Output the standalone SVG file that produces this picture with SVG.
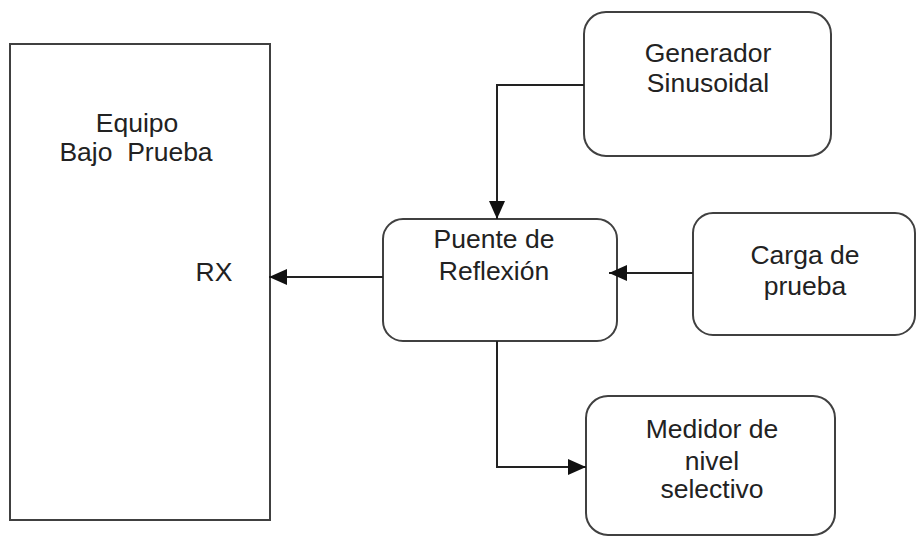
<svg xmlns="http://www.w3.org/2000/svg" width="917" height="537" viewBox="0 0 917 537">
<style>
.box{fill:#fff;stroke:#404040;stroke-width:2}
.t{font-family:"Liberation Sans",Arial,sans-serif;font-size:26.5px;fill:#222;text-anchor:middle}
.c{fill:none;stroke:#222;stroke-width:2}
</style>
<defs>
<marker id="ah" viewBox="0 0 18 16" refX="18" refY="8" markerWidth="18" markerHeight="16" markerUnits="userSpaceOnUse" orient="auto">
<path d="M0,0 L18,8 L0,16 Z" fill="#111"/>
</marker>
</defs>
<rect width="917" height="537" fill="#fff"/>
<g id="equipo">
<rect class="box" x="10" y="44" width="260" height="476"/>
<text class="t" x="137" y="132">Equipo</text>
<text class="t" x="136" y="161" xml:space="preserve">Bajo  Prueba</text>
<text class="t" x="214" y="281">RX</text>
</g>
<g id="generador">
<rect class="box" x="584" y="12" width="247" height="144" rx="22"/>
<text class="t" x="708" y="62">Generador</text>
<text class="t" x="708" y="92">Sinusoidal</text>
</g>
<g id="puente">
<rect class="box" x="383" y="219" width="234" height="122" rx="20"/>
<text class="t" x="494" y="248">Puente de</text>
<text class="t" x="494" y="280">Reflexión</text>
</g>
<g id="carga">
<rect class="box" x="693" y="213" width="222" height="122" rx="20"/>
<text class="t" x="805" y="264">Carga de</text>
<text class="t" x="805" y="295">prueba</text>
</g>
<g id="medidor">
<rect class="box" x="586" y="396" width="249" height="139" rx="22"/>
<text class="t" x="712" y="438">Medidor de</text>
<text class="t" x="712" y="470">nivel</text>
<text class="t" x="712" y="498">selectivo</text>
</g>
<g id="connectors">
<path class="c" d="M584,85 H497 V219" marker-end="url(#ah)"/>
<path class="c" d="M383,277 H269" marker-end="url(#ah)"/>
<path class="c" d="M693,273 H609" marker-end="url(#ah)"/>
<path class="c" d="M497,341 V467 H586" marker-end="url(#ah)"/>
</g>
</svg>
